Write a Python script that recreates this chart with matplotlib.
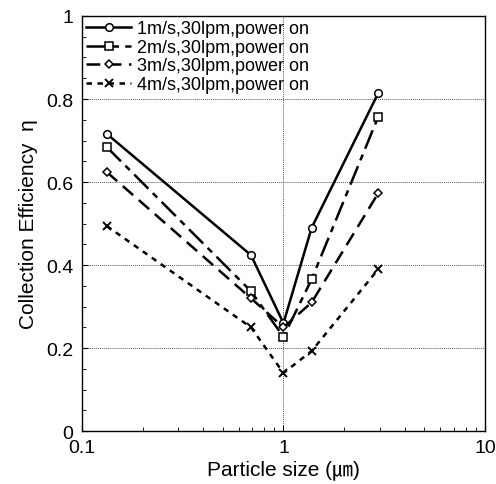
import matplotlib
matplotlib.use("Agg")
import matplotlib.pyplot as plt
from matplotlib.ticker import FixedLocator, FuncFormatter, MultipleLocator, LogLocator, NullFormatter

plt.rcParams['font.family'] = ['Liberation Sans', 'Noto Sans CJK KR', 'DejaVu Sans']

# particle sizes (um)
sizes = [0.133, 0.69, 1.0, 1.38, 2.95]

# collection efficiency per condition
eff_1ms = [0.716, 0.424, 0.26, 0.49, 0.814]
eff_2ms = [0.684, 0.337, 0.227, 0.366, 0.757]
eff_3ms = [0.624, 0.32, 0.25, 0.31, 0.573]
eff_4ms = [0.494, 0.25, 0.14, 0.193, 0.39]

labels = ["1m/s,30lpm,power on", "2m/s,30lpm,power on",
          "3m/s,30lpm,power on", "4m/s,30lpm,power on"]

fig = plt.figure(figsize=(4.96, 4.85), dpi=100)
ax = fig.add_axes([0.165, 0.109, 0.813, 0.856])

ax.plot(sizes, eff_1ms, color='black', lw=1.8, ls='-', marker='o', ms=5.5,
        mfc='white', mec='black', mew=1.1, label=labels[0])
ax.plot(sizes, eff_2ms, color='black', lw=1.8, ls=(0, (8, 2.5, 2.5, 2.5)), marker='s', ms=5.5,
        mfc='white', mec='black', mew=1.1, label=labels[1])
ax.plot(sizes, eff_3ms, color='black', lw=1.8, ls=(0, (5.5, 3)), marker='D', ms=4,
        mfc='white', mec='black', mew=1.1, label=labels[2])
ax.plot(sizes, eff_4ms, color='black', lw=1.8, ls=(0, (2.2, 2.2)), marker='x', ms=6,
        mec='black', mew=1.4, label=labels[3])

ax.set_xscale('log')
ax.set_xlim(0.1, 10)
ax.set_ylim(0, 1)

ax.xaxis.set_major_locator(FixedLocator([0.1, 1, 10]))
ax.xaxis.set_major_formatter(FuncFormatter(lambda v, p: {0.1: "0.1", 1: "1", 10: "10"}.get(round(v, 1), "")))
ax.xaxis.set_minor_locator(LogLocator(base=10, subs=range(2, 10)))
ax.xaxis.set_minor_formatter(NullFormatter())
ax.yaxis.set_major_locator(MultipleLocator(0.2))
ax.yaxis.set_major_formatter(FuncFormatter(lambda v, p: "0" if v == 0 else ("1" if abs(v - 1) < 1e-9 else f"{v:.1f}")))
ax.yaxis.set_minor_locator(MultipleLocator(0.05))

ax.tick_params(which='both', direction='in', top=False, right=False, labelsize=14, colors='black')
ax.tick_params(which='major', length=4, width=0.8, pad=6)
ax.tick_params(which='minor', length=3, width=0.6)

ax.grid(True, which='major', color='#555555', ls=(0, (1, 1)), lw=0.7)
for s in ax.spines.values():
    s.set_linewidth(1.0)
    s.set_color('black')

ax.set_xlabel("Particle size (㎛)", fontsize=15, labelpad=2)
ax.set_ylabel("Collection Efficiency  η", fontsize=15, labelpad=6)

leg = ax.legend(loc='upper left', bbox_to_anchor=(0, 1), borderaxespad=0, fontsize=13,
                handlelength=2.5, handletextpad=0.3, labelspacing=0.08, borderpad=0.25,
                fancybox=False, framealpha=0, edgecolor='black')
leg.get_frame().set_linewidth(0.8)

fig.savefig("out.png", dpi=100)
